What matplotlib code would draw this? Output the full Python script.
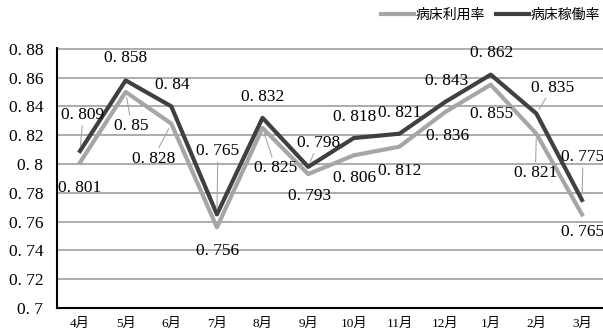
import matplotlib.pyplot as plt
from matplotlib.ticker import FuncFormatter, MultipleLocator

months = ["4月", "5月", "6月", "7月", "8月", "9月", "10月", "11月", "12月", "1月", "2月", "3月"]
riyou = [0.801, 0.85, 0.828, 0.756, 0.825, 0.793, 0.806, 0.812, 0.836, 0.855, 0.821, 0.765]
kadou = [0.809, 0.858, 0.84, 0.765, 0.832, 0.798, 0.818, 0.821, 0.843, 0.862, 0.835, 0.775]

# label offsets in pixels (dx, dy) and whether a leader line is drawn
kadou_off = [(3, 36), (0, 22), (1, 21), (1, 63), (0, 21), (10, 24),
             (1, 21), (0, 21), (2, 21), (1, 22), (16, 26), (1, 43)]
kadou_lead = [1, 0, 0, 1, 0, 1, 0, 0, 0, 0, 1, 1]
riyou_off = [(0, -25), (6, -34), (-18, -35), (1, -24), (13, -40), (1, -22),
             (1, -23), (0, -24), (2, -24), (1, -29), (-1, -39), (1, -18)]
riyou_lead = [0, 1, 1, 0, 1, 0, 0, 0, 0, 0, 1, 0]

LIGHT = "#A6A6A6"
DARK = "#404040"
numfont = ["Liberation Serif", "Noto Sans CJK JP"]

fig = plt.figure(figsize=(6.03, 3.36), dpi=100)
ax = fig.add_axes([57.2 / 603, 28 / 336, 547.6 / 603, 260 / 336])

x = list(range(len(months)))
ax.plot(x, riyou, color=LIGHT, lw=3, label="病床利用率", zorder=3)
ax.plot(x, kadou, color=DARK, lw=3, label="病床稼働率", zorder=4)


def tick_fmt(v, pos=None):
    return (f"{v:.2f}".rstrip("0")).replace(".", ". ")


def put_labels(vals, offs, leads):
    for i, v in enumerate(vals):
        dx, dy = offs[i]
        ap = None
        if leads[i]:
            ap = dict(arrowstyle="-", color=LIGHT, lw=0.8, shrinkA=0, shrinkB=4)
        ax.annotate(f"{v:g}".replace(".", ". "), xy=(i, v), xytext=(dx, dy),
                    textcoords="offset pixels", ha="center", va="center",
                    fontsize=12.5, family=numfont, color="#000000",
                    arrowprops=ap, annotation_clip=False, zorder=5)


put_labels(kadou, kadou_off, kadou_lead)
put_labels(riyou, riyou_off, riyou_lead)

ax.set_xlim(-0.5, len(months) - 0.5)
ax.set_ylim(0.7, 0.8805)
ax.yaxis.set_major_locator(MultipleLocator(0.02))
ax.yaxis.set_major_formatter(FuncFormatter(tick_fmt))
ax.set_xticks(x)
ax.set_xticklabels(months, family=numfont, fontsize=9.5)
for t in ax.get_yticklabels():
    t.set_family(numfont)
    t.set_fontsize(12.5)
ax.tick_params(axis="y", length=0, pad=10)
ax.tick_params(axis="x", length=0, pad=7)
ax.grid(axis="y", color=LIGHT, lw=1.3)
ax.set_axisbelow(True)
for s in ["top", "right"]:
    ax.spines[s].set_visible(False)
for s in ["left", "bottom"]:
    ax.spines[s].set_color("black")
    ax.spines[s].set_linewidth(1.5)

fig.legend(loc="center right", bbox_to_anchor=(1.0, 1 - 15 / 336), ncol=2, frameon=False,
           prop={"family": "Noto Sans CJK JP", "size": 10}, handlelength=2.4,
           handletextpad=0.1, columnspacing=0.8, borderaxespad=0, borderpad=0.2)

fig.savefig("out.png", dpi=100)
